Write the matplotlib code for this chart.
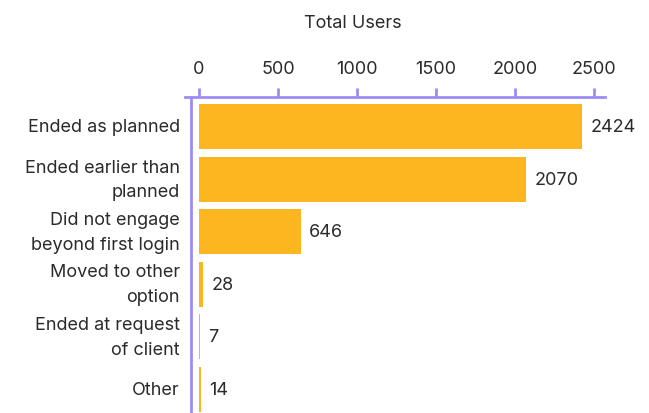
import matplotlib
matplotlib.use("Agg")
import matplotlib.pyplot as plt

categories = ["Ended as planned", "Ended earlier than\nplanned",
              "Did not engage\nbeyond first login", "Moved to other\noption",
              "Ended at request\nof client", "Other"]
users = [2424, 2070, 646, 28, 7, 14]
xticks = [0, 500, 1000, 1500, 2000, 2500]

BAR = "#FDB61F"
AXIS = "#9B8DF2"
TEXT = "#2b2b2b"
FS = 13

plt.rcParams["font.family"] = ["Inter", "DejaVu Sans"]

fig = plt.figure(figsize=(6.49, 4.14), dpi=100)
ax = fig.add_axes([185/649, 0, 420/649, 1 - 98/414])

pos = range(len(users))
bars = ax.barh(pos, users, height=0.86, color=BAR)
ax.bar_label(bars, labels=[str(v) for v in users], padding=6, fontsize=FS, color=TEXT)

# bars start a few px right of the axis line, like the original
ax.set_xlim(-88, 2570)
ax.set_ylim(5.45, -0.57)

ax.xaxis.tick_top()
ax.set_xticks(xticks)
ax.tick_params(axis="x", direction="out", length=6.5, width=2, color=AXIS,
               labelsize=FS, labelcolor=TEXT, pad=8)
ax.set_yticks([])
# category labels as plain text so the line spacing sticks
for i, cat in zip(pos, categories):
    ax.text(-0.012, i, cat, transform=ax.get_yaxis_transform(), ha="right",
            va="center", fontsize=FS, color=TEXT, linespacing=1.6)

for s in ["right", "bottom"]:
    ax.spines[s].set_visible(False)
ax.spines["top"].set_color(AXIS)
ax.spines["top"].set_linewidth(2)
ax.spines["left"].set_color(AXIS)
ax.spines["left"].set_linewidth(2)
ax.spines["left"].set_position(("data", -50))

fig.text(353/649, 1 - 24/414, "Total Users", ha="center", va="center",
         fontsize=FS, color=TEXT)

fig.savefig("out.png", dpi=100)
